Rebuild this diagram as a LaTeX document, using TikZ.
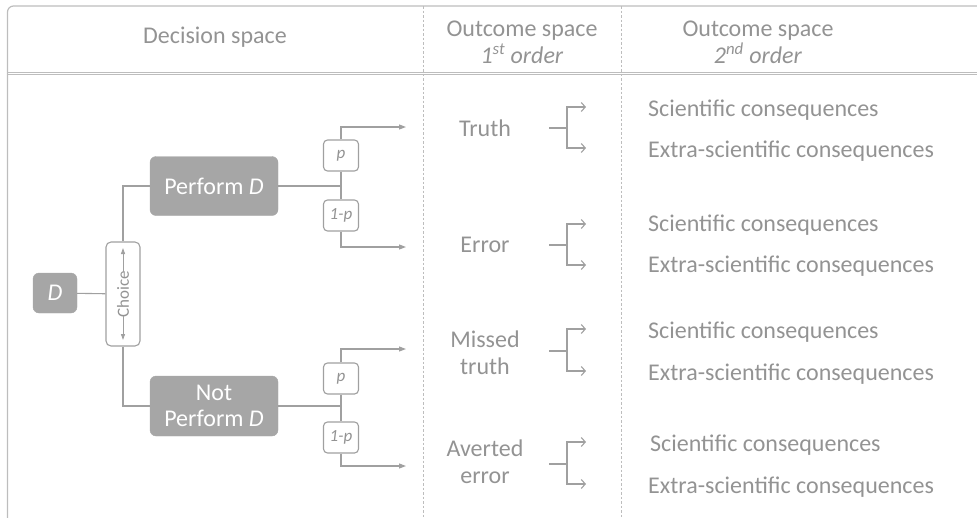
\documentclass[tikz,border=0pt]{standalone}
\usepackage{fontspec}
\setmainfont{Carlito}
\usetikzlibrary{arrows.meta}
\definecolor{txt}{HTML}{939393}
\definecolor{boxfill}{HTML}{A6A6A6}
\definecolor{ln}{HTML}{A0A0A0}
\definecolor{frm}{HTML}{BDBDBD}
\tikzset{
  gbox/.style={draw=boxfill, fill=boxfill, rounded corners=6pt, text=white, font=\fontsize{24}{26}\selectfont, align=center, inner sep=2pt},
  pbox/.style={draw=ln, fill=white, line width=1.1pt, rounded corners=4pt, text=txt, minimum width=35pt, minimum height=31pt, font=\fontsize{17}{18}\selectfont\itshape, inner sep=1pt},
  conn/.style={draw=ln, line width=1.1pt},
  tri/.style={conn, -{Triangle[length=7pt,width=5pt]}},
  barb/.style={conn, -{Straight Barb[length=4pt,width=9pt]}},
  lbl/.style={text=txt, font=\fontsize{24}{27}\selectfont, align=center, inner sep=0pt},
  cons/.style={text=txt, font=\fontsize{24}{26}\selectfont, anchor=west, inner sep=0pt},
  hdr/.style={text=txt, font=\fontsize{24}{27}\selectfont, align=center, inner sep=0pt},
  vdash/.style={draw=frm, line width=0.8pt, dash pattern=on 2.5pt off 2pt}
}
\begin{document}
\begin{tikzpicture}[x=1pt,y=-1pt]
\useasboundingbox (0,0) rectangle (977,517);
% frame
\draw[frm, line width=1.2pt, rounded corners=6pt] (7.5,520) -- (7.5,6) -- (980,6);
\draw[frm, line width=0.8pt] (7.5,72) -- (977,72);
\draw[frm, line width=0.8pt] (7.5,74.3) -- (977,74.3);
\draw[vdash] (423,6) -- (423,517);
\draw[vdash] (621,6) -- (621,517);
% headers
\node[hdr] (h1) at (215,37) {Decision space};
\node[hdr] (h2) at (522,42) {Outcome space\\\textit{1\textsuperscript{st} order}};
\node[hdr] (h3) at (758,42) {Outcome space\\\textit{2\textsuperscript{nd} order}};
% decision tree
\node[gbox, minimum width=44pt, minimum height=40pt] (D) at (55,293) {\textit{D}};
\node[draw=ln, line width=1.1pt, fill=white, rounded corners=5pt, minimum width=34pt, minimum height=104pt] (choice) at (123,294) {};
\node[rotate=90, text=txt, font=\fontsize{17}{18}\selectfont, inner sep=0pt] (choicetxt) at (choice.center) {Choice};
\draw[tri, line width=0.9pt, -{Triangle[length=6pt,width=4pt]}] ([yshift=-22pt]choice.center) -- ([yshift=-46pt]choice.center);
\draw[tri, line width=0.9pt, -{Triangle[length=6pt,width=4pt]}] ([yshift=22pt]choice.center) -- ([yshift=46pt]choice.center);
\node[gbox, minimum width=128pt, minimum height=59pt] (perf) at (214,186) {Perform \textit{D}};
\node[gbox, minimum width=128pt, minimum height=60pt] (notperf) at (214,406) {Not\\Perform \textit{D}};
\draw[conn] (D) -- (choice);
\draw[conn] (choice.north) |- (perf.west);
\draw[conn] (choice.south) |- (notperf.west);
% upper branch
\coordinate (j1) at (341,186);
\node[pbox] (p1) at (341,155.5) {p};
\node[pbox] (q1) at (341,215.5) {1-p};
\coordinate (a1) at (406,127);
\coordinate (a2) at (406,247);
\draw[conn] (perf.east) -- (j1);
\draw[conn] (p1) -- (q1);
\draw[tri] (p1.north) |- (a1);
\draw[tri] (q1.south) |- (a2);
% lower branch
\coordinate (j2) at (341,406);
\node[pbox] (p2) at (341,378.5) {p};
\node[pbox] (q2) at (341,437.5) {1-p};
\coordinate (a3) at (406,349);
\coordinate (a4) at (406,466);
\draw[conn] (notperf.east) -- (j2);
\draw[conn] (p2) -- (q2);
\draw[tri] (p2.north) |- (a3);
\draw[tri] (q2.south) |- (a4);
% outcomes 1st order
\node[lbl] (o1) at (485,128) {Truth};
\node[lbl] (o2) at (485,245) {Error};
\node[lbl] (o3) at (485,353) {Missed\\truth};
\node[lbl] (o4) at (485,462) {Averted\\error};
% brackets
\foreach \n/\y/\u/\d in {1/128/107/148, 2/245/224/265, 3/351/329/371, 4/464/442/484}{
  \coordinate (s\n) at (549,\y);
  \coordinate (b\n) at (567,\y);
  \coordinate (bu\n) at (586,\u);
  \coordinate (bd\n) at (586,\d);
  \draw[conn] (s\n) -- (b\n);
  \draw[barb] (b\n) |- (bu\n);
  \draw[barb] (b\n) |- (bd\n);
}
% outcomes 2nd order
\node[cons] (c1a) at (648,110) {Scientific consequences};
\node[cons] (c1b) at (648,151) {Extra-scientific consequences};
\node[cons] (c2a) at (648,225) {Scientific consequences};
\node[cons] (c2b) at (648,266) {Extra-scientific consequences};
\node[cons] (c3a) at (648,332) {Scientific consequences};
\node[cons] (c3b) at (648,374) {Extra-scientific consequences};
\node[cons] (c4a) at (650,445) {Scientific consequences};
\node[cons] (c4b) at (648,487) {Extra-scientific consequences};
\end{tikzpicture}
\end{document}
